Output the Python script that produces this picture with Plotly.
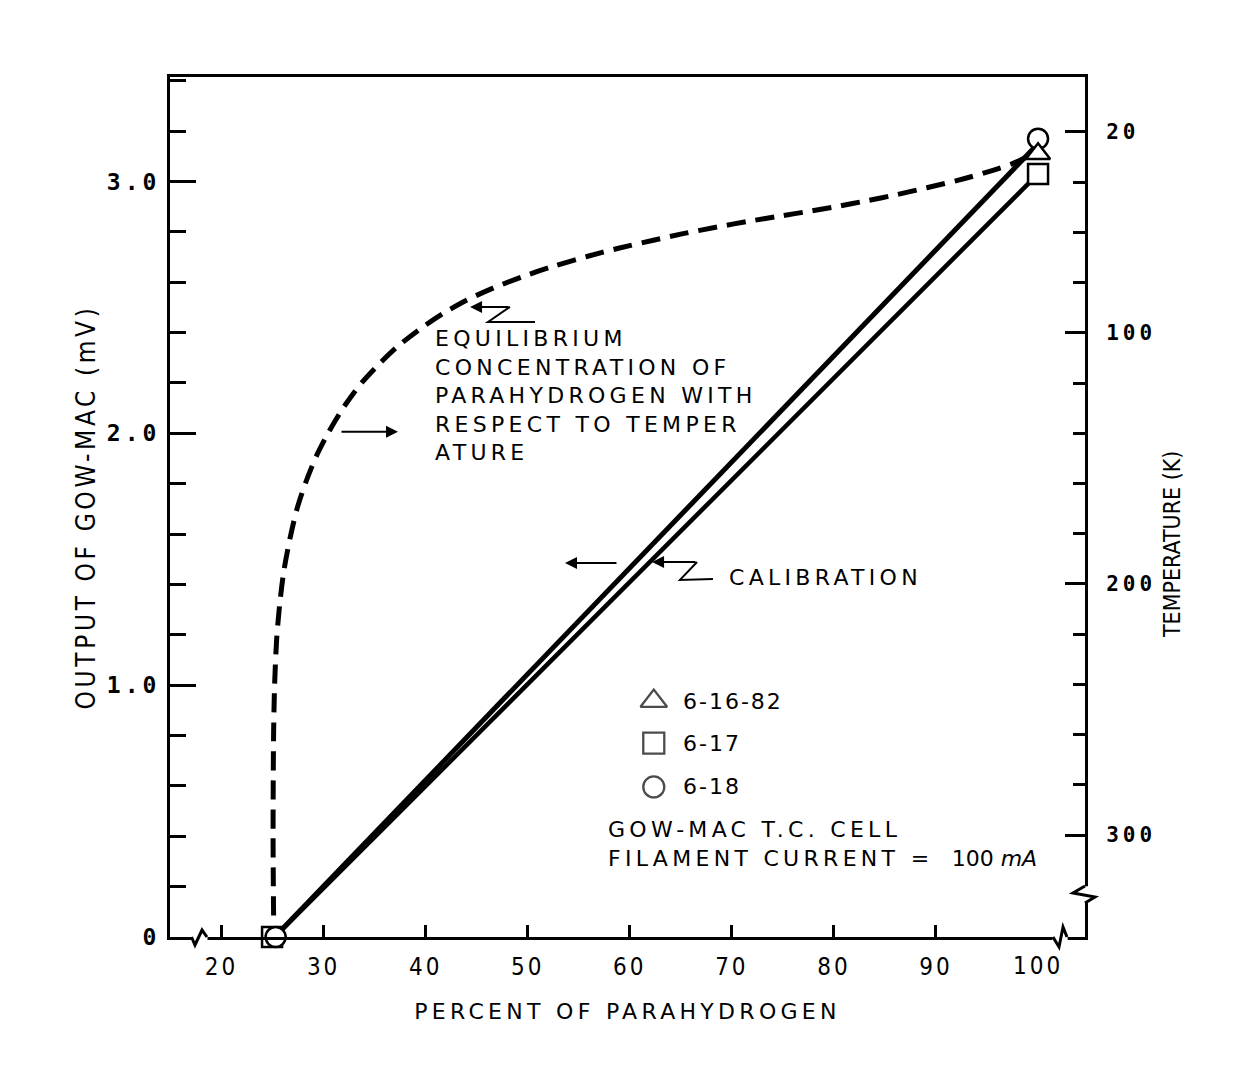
import plotly.graph_objects as go

# ---------------------------------------------------------------------------
# Equilibrium parahydrogen concentration (%) versus temperature (K)
eq_para_pct = [25.1, 25.05, 25.1, 25.2, 25.4, 25.7, 26.1, 26.7, 27.4, 28.3,
               29.3, 30.5, 31.9, 33.5, 35.3, 37.2, 39.5, 41.7, 44.0, 46.6,
               49.5, 52.5, 55.8, 59.0, 62.2, 65.1, 68.6, 71.6, 74.7, 77.7,
               80.4, 83.2, 86.2, 89.1, 92.2, 95.0, 97.5, 98.9]
eq_temp_k = [332, 300, 260, 240, 222, 208, 195, 182, 170, 159,
             149, 139.5, 130, 121, 113, 105.6, 98.3, 92.3, 87.0, 82.2,
             77.6, 73.5, 69.6, 66.2, 63.2, 60.6, 57.8, 55.6, 53.5, 51.5,
             49.6, 47.4, 44.9, 42.2, 39.2, 36.0, 32.6, 30.0]

# Calibration: percent parahydrogen -> Gow-Mac output (mV)
cal_pct = [25.2, 100.0]
cal_mv_upper = [0.0, 3.15]
cal_mv_lower = [0.0, 3.03]

# Measured points for each run
run_labels = ["6-16-82", "6-17", "6-18"]
run_symbols = ["triangle-up", "square", "circle"]
run_sizes = [21, 20, 20]
run_pct = [[100.0], [24.95, 100.0], [25.3, 100.0]]
run_mv = [[3.11], [0.0, 3.03], [0.0, 3.17]]

# Axis ticks
pct_ticks = [20, 30, 40, 50, 60, 70, 80, 90]
pct_tick_end = [100]
mv_ticks = [0, 1, 2, 3]
mv_tick_text = ["0", "1.0", "2.0", "3.0"]
temp_ticks = [20, 100, 200, 300]
temp_minor = [40, 60, 80, 120, 140, 160, 180, 220, 240, 260, 280]

# ---------------------------------------------------------------------------
SANS = "DejaVu Sans"
NARROW = "Liberation Sans Narrow, DejaVu Sans Condensed, Liberation Sans"
MONO = "DejaVu Sans Mono"
LS = 4.3  # letter spacing used for the lettering


def sp(text, ls=LS):
    return f'<span style="letter-spacing:{ls}px">{text}</span>'


fig = go.Figure()

# dashed equilibrium curve, read against the temperature axis
fig.add_trace(go.Scatter(
    x=eq_para_pct, y=eq_temp_k, xaxis="x2", yaxis="y2", mode="lines",
    line=dict(color="black", width=5, dash="19px,10px", shape="spline", smoothing=0.8),
    hoverinfo="skip", showlegend=False))

# double calibration line
fig.add_trace(go.Scatter(x=cal_pct, y=cal_mv_upper, mode="lines",
                         line=dict(color="black", width=5), showlegend=False))
fig.add_trace(go.Scatter(x=cal_pct, y=cal_mv_lower, mode="lines",
                         line=dict(color="black", width=4.5), showlegend=False))

# run markers (square, circle, then triangle on top)
for i in [1, 2, 0]:
    fig.add_trace(go.Scatter(
        x=run_pct[i], y=run_mv[i], mode="markers", name=run_labels[i],
        marker=dict(symbol=run_symbols[i], size=run_sizes[i], color="white",
                    line=dict(color="black", width=2.5)),
        cliponaxis=False, showlegend=False))

# hand-placed key for the three runs
KEY_X = 62.35
KEY_Y = [0.937, 0.770, 0.596]
fig.add_trace(go.Scatter(
    x=[KEY_X] * 3, y=KEY_Y, mode="markers",
    marker=dict(symbol=run_symbols, size=[23, 21, 21], color="white",
                line=dict(color="black", width=2.3)),
    hoverinfo="skip", showlegend=False))

annotations = []
for lab, yk in zip(run_labels, KEY_Y):
    annotations.append(dict(x=65.0, y=yk, xref="x", yref="y", text=sp(lab, 2),
                            showarrow=False, xanchor="left", yanchor="middle",
                            font=dict(family=SANS, size=22)))

annotations += [
    dict(x=40.75, y=2.152, xref="x", yref="y", xanchor="left", yanchor="middle",
         align="left", showarrow=False, font=dict(family=SANS, size=22),
         text="<br>".join(sp(t) for t in ["EQUILIBRIUM", "CONCENTRATION OF",
                                             "PARAHYDROGEN WITH", "RESPECT TO TEMPER",
                                             "ATURE"])),
    dict(x=69.55, y=1.426, xref="x", yref="y", xanchor="left", yanchor="middle",
         showarrow=False, font=dict(family=SANS, size=22), text=sp("CALIBRATION")),
    dict(x=57.65, y=0.369, xref="x", yref="y", xanchor="left", yanchor="middle",
         align="left", showarrow=False, font=dict(family=SANS, size=22),
         text=sp("GOW-MAC T.C. CELL") + "<br>" + sp("FILAMENT CURRENT =\u00a0") +
         "\u00a0100 <i>mA</i>"),
    # right-hand axis title
    dict(x=1.0951, y=0.4558, xref="paper", yref="paper", textangle=-90,
         showarrow=False, xanchor="center", yanchor="middle",
         font=dict(family=NARROW, size=23), text="TEMPERATURE (K)"),
    # arrows
    dict(x=44.35, y=2.502, xref="x", yref="y", ax=40, ay=0, showarrow=True,
         arrowhead=2, arrowsize=1.2, arrowwidth=2, arrowcolor="black", text=""),
    dict(x=37.29, y=2.006, xref="x", yref="y", ax=-58, ay=0, showarrow=True,
         arrowhead=2, arrowsize=1.2, arrowwidth=2, arrowcolor="black", text=""),
    dict(x=53.65, y=1.485, xref="x", yref="y", ax=53, ay=0, showarrow=True,
         arrowhead=2, arrowsize=1.2, arrowwidth=2, arrowcolor="black", text=""),
    dict(x=62.18, y=1.489, xref="x", yref="y", ax=45, ay=0, showarrow=True,
         arrowhead=2, arrowsize=1.2, arrowwidth=2, arrowcolor="black", text=""),
]

line_k = dict(color="black", width=2)
frame_k = dict(color="black", width=3)
white = dict(type="rect", xref="paper", yref="paper", fillcolor="white",
             line=dict(width=0), layer="above")
brk = dict(type="path", xref="paper", yref="paper", line=frame_k, layer="above")
shapes = [
    # zigzag leaders of the callouts
    dict(type="path", xref="x", yref="y", line=line_k, layer="above",
         path="M48.26,2.502 L46.11,2.442 L50.71,2.442"),
    dict(type="path", xref="x", yref="y", line=line_k, layer="above",
         path="M66.59,1.489 L64.92,1.418 L68.15,1.422"),
    # axis breaks
    dict(white, x0=0.0235, x1=0.0410, y0=-0.004, y1=0.004),
    dict(brk, path="M0.0235,0 L0.0273,-0.0093 L0.0350,0.0081 L0.0404,0"),
    dict(white, x0=0.9645, x1=0.9810, y0=-0.004, y1=0.004),
    dict(brk, path="M0.9650,0 L0.9716,-0.0116 L0.9760,0.0116 L0.9803,0"),
    dict(white, x0=0.994, x1=1.006, y0=0.040, y1=0.059),
    dict(brk, path="M1,0.0593 L0.9869,0.0512 L1.0109,0.0465 L1,0.0395"),
]

tick_common = dict(tickcolor="black", tickwidth=2.5, showgrid=False, zeroline=False)

fig.update_layout(
    width=1245, height=1068,
    margin=dict(l=170, r=160, t=77, b=131, autoexpand=False),
    paper_bgcolor="white", plot_bgcolor="white",
    showlegend=False,
    font=dict(family=SANS, color="black", size=22),
    xaxis=dict(
        range=[14.95, 104.6], showline=True, linecolor="black", linewidth=3, mirror=True,
        tickmode="array", tickvals=pct_ticks, ticktext=[sp(str(v), 3) for v in pct_ticks],
        ticks="inside", ticklen=12, tickfont=dict(family=NARROW, size=24),
        ticklabelstandoff=6,
        title=dict(text=sp("PERCENT OF PARAHYDROGEN"), font=dict(family=SANS, size=22),
                   standoff=24),
        **tick_common),
    xaxis2=dict(
        range=[14.95, 104.6], overlaying="x", anchor="y2", side="bottom",
        showline=False, tickmode="array", tickvals=pct_tick_end,
        ticktext=[sp(str(v), 3) for v in pct_tick_end], ticks="",
        tickfont=dict(family=NARROW, size=24), ticklabelstandoff=12, **tick_common),
    yaxis=dict(
        range=[0, 3.415], showline=True, linecolor="black", linewidth=3,
        tickmode="array", tickvals=mv_ticks, ticktext=[sp(t, 4) for t in mv_tick_text],
        ticks="inside", ticklen=26,
        minor=dict(tick0=0, dtick=0.2, ticks="inside", ticklen=16, tickwidth=2.5,
                   tickcolor="black"),
        tickfont=dict(family=MONO, size=23, weight="bold"), ticklabelstandoff=2,
        title=dict(text=sp("OUTPUT OF GOW-MAC (mV)", 3.6),
                   font=dict(family=NARROW, size=26), standoff=4),
        **tick_common),
    yaxis2=dict(
        range=[340.6, -1.9], overlaying="y", anchor="x2", side="right",
        showline=True, linecolor="black", linewidth=3,
        tickmode="array", tickvals=temp_ticks, ticktext=[sp(str(t), 4) for t in temp_ticks],
        ticks="inside", ticklen=20,
        minor=dict(tickmode="array", tickvals=temp_minor, ticks="inside", ticklen=12,
                   tickwidth=2.5, tickcolor="black"),
        tickfont=dict(family=MONO, size=21, weight="bold"), ticklabelstandoff=14,
        **tick_common),
    annotations=annotations,
    shapes=shapes,
)

fig.write_html("out.html")
